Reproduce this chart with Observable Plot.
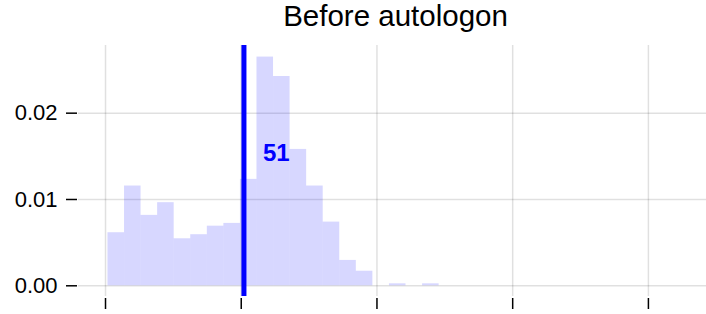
<!DOCTYPE html>
<html><head><meta charset="utf-8">
<script src="https://cdn.jsdelivr.net/npm/d3@7"></script>
<script src="https://cdn.jsdelivr.net/npm/@observablehq/plot@0.6"></script>
<style>body{margin:0;background:#fff;}</style>
</head><body><div id="chart"></div>
<script>
const title = "Before autologon";
const binEdges = [0.9, 7.0, 13.1, 19.2, 25.3, 31.4, 37.5, 43.6, 49.7, 55.8, 61.9, 68.0, 74.1, 80.2, 86.3, 92.4, 98.5, 104.6, 110.7, 116.8, 122.9];
const density = [0.00615, 0.01156, 0.00816, 0.00963, 0.00545, 0.00592, 0.00691, 0.00723, 0.01233, 0.0265, 0.02425, 0.0158, 0.01156, 0.00738, 0.00294, 0.00169, 0, 0.00023, 0, 0.00023];
const xTicks = [0, 50, 100, 150, 200];
const yTicks = [0, 0.01, 0.02];
const yTickLabels = ["0.00", "0.01", "0.02"];
const markerValue = 51;
const markerLabel = "51";

const bins = density.map((d, i) => ({x1: binEdges[i], x2: binEdges[i + 1], y: d}));

const chart = Plot.plot({
  width: 706, height: 314,
  marginLeft: 78, marginRight: 0, marginTop: 45, marginBottom: 18,
  style: {fontFamily: "'Liberation Sans', Arial, sans-serif", fontSize: "22px", color: "#000", background: "#fff"},
  x: {domain: [-9.95, 221.4], label: null},
  y: {domain: [-0.00124, 0.02784], label: null},
  marks: [
    Plot.gridX(xTicks, {stroke: "#000", strokeOpacity: 0.12, strokeWidth: 1.5}),
    Plot.gridY(yTicks, {stroke: "#000", strokeOpacity: 0.12, strokeWidth: 1.5}),
    Plot.rectY(bins, {x1: "x1", x2: "x2", y: "y", fill: "blue", fillOpacity: 0.155}),
    Plot.ruleX([markerValue], {stroke: "blue", strokeWidth: 5}),
    Plot.text([markerLabel], {x: markerValue, y: 0.0153, text: d => d, dx: 19, textAnchor: "start", fill: "blue", fontWeight: "bold", fontSize: 24}),
    Plot.axisX(xTicks, {tickSize: 11, tickFormat: () => "", dy: 2, strokeWidth: 1.5, stroke: "#000"}),
    Plot.axisY(yTicks, {tickSize: 11, tickPadding: 9, tickFormat: (d, i) => yTickLabels[i], dx: -1, strokeWidth: 1.5, stroke: "#000", fontSize: 22}),
    Plot.text([title], {frameAnchor: "top", lineAnchor: "top", text: d => d, dy: -40, dx: 3, fontSize: 29.5})
  ]
});
document.getElementById("chart").appendChild(chart);
</script>
</body></html>
